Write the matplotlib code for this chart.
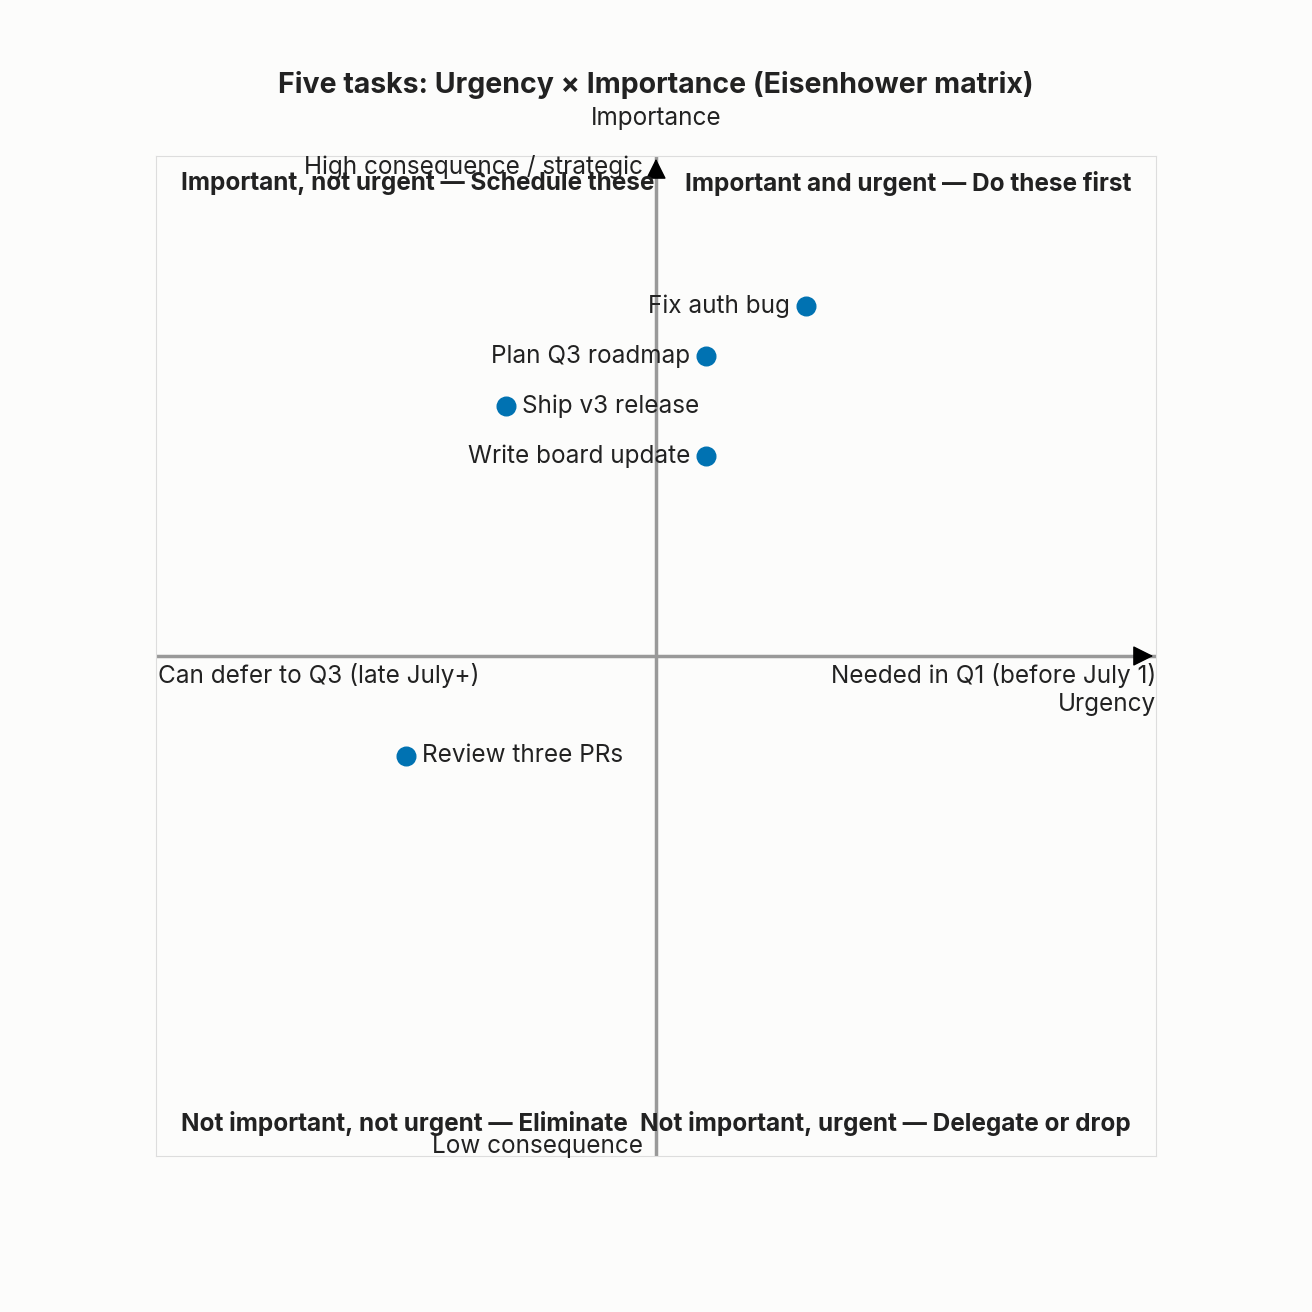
import matplotlib.pyplot as plt

plt.rcParams['font.family'] = ['Inter', 'DejaVu Sans']

# task data
tasks = ["Fix auth bug", "Plan Q3 roadmap", "Ship v3 release", "Write board update", "Review three PRs"]
urgency = [0.3, 0.1, -0.3, 0.1, -0.5]
importance = [0.7, 0.6, 0.5, 0.4, -0.2]
label_side = ["left", "left", "right", "left", "right"]

bg = "#fcfcfb"
fs = 17.5
fig = plt.figure(figsize=(13.12, 13.12), dpi=100, facecolor=bg)
ax = fig.add_axes([156/1312, 156/1312, 1000/1312, 1000/1312])
ax.set_facecolor(bg)
ax.set_xlim(-1, 1)
ax.set_ylim(-1, 1)
ax.set_xticks([])
ax.set_yticks([])
for s in ax.spines.values():
    s.set_color("#dddddd")

# axes lines with arrows
ax.axhline(0, color="#999999", lw=2.5, zorder=1)
ax.axvline(0, color="#999999", lw=2.5, zorder=1)
ax.annotate("", xy=(1, 0), xytext=(0.955, 0),
            arrowprops=dict(arrowstyle="-|>", color="black", lw=1, mutation_scale=32))
ax.annotate("", xy=(0, 1), xytext=(0, 0.955),
            arrowprops=dict(arrowstyle="-|>", color="black", lw=1, mutation_scale=32))

ax.scatter(urgency, importance, s=180, color="#0072b2", zorder=3)
for t, x, y, side in zip(tasks, urgency, importance, label_side):
    if side == "left":
        ax.text(x - 0.032, y, t, ha="right", va="center", fontsize=fs, color="#222222")
    else:
        ax.text(x + 0.032, y, t, ha="left", va="center", fontsize=fs, color="#222222")

ax.text(0.95, 0.945, "Important and urgent — Do these first", ha="right", va="center",
        fontsize=fs, fontweight="bold", color="#222222")
ax.text(-0.95, 0.945, "Important, not urgent — Schedule these", ha="left", va="center",
        fontsize=fs, fontweight="bold", color="#222222")
ax.text(0.95, -0.935, "Not important, urgent — Delegate or drop", ha="right", va="center",
        fontsize=fs, fontweight="bold", color="#222222")
ax.text(-0.95, -0.935, "Not important, not urgent — Eliminate", ha="left", va="center",
        fontsize=fs, fontweight="bold", color="#222222")

ax.text(-0.026, 0.978, "High consequence / strategic", ha="right", va="center", fontsize=fs, color="#222222")
ax.text(-0.026, -0.982, "Low consequence", ha="right", va="center", fontsize=fs, color="#222222")
ax.text(-0.996, -0.04, "Can defer to Q3 (late July+)", ha="left", va="center", fontsize=fs, color="#222222")
ax.text(1.0, -0.04, "Needed in Q1 (before July 1)", ha="right", va="center", fontsize=fs, color="#222222")
ax.text(1.0, -0.096, "Urgency", ha="right", va="center", fontsize=fs, color="#222222")

fig.text(0.5, 1 - 119/1312, "Importance", ha="center", va="center", fontsize=fs, color="#222222")
fig.text(0.5, 1 - 85/1312, "Five tasks: Urgency × Importance (Eisenhower matrix)", ha="center",
         va="center", fontsize=20.5, fontweight="bold", color="#222222")

fig.savefig("out.png", dpi=100, facecolor=bg)
